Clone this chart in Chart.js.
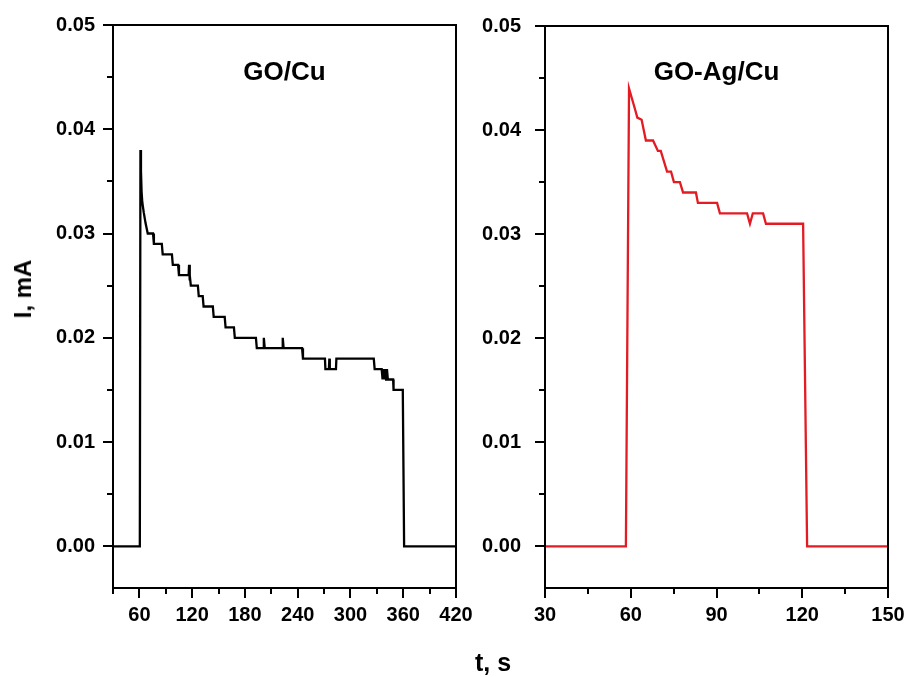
<!DOCTYPE html>
<html>
<head>
<meta charset="utf-8">
<script src="https://cdn.jsdelivr.net/npm/chart.js@4.4.0/dist/chart.umd.min.js"></script>
<style>
  html, body { margin: 0; padding: 0; background: #fff; overflow: hidden; }
  body { width: 908px; height: 677px; position: relative; font-family: "Liberation Sans", Arial, sans-serif; }
  canvas { position: absolute; top: 0; }
  #chartLeft { left: 0; }
  #chartRight { left: 460px; }
  .axis-title { position: absolute; font-weight: bold; font-size: 24px; color: #000; white-space: nowrap; }
  #yTitle { left: 23px; top: 289px; transform: translate(-50%, -50%) rotate(-90deg); }
  #xTitle { left: 493px; top: 662px; transform: translate(-50%, -50%); font-size: 25px; }
</style>
</head>
<body>
<canvas id="chartLeft" width="490" height="677"></canvas>
<canvas id="chartRight" width="468" height="677"></canvas>
<div id="yTitle" class="axis-title">I, mA</div>
<div id="xTitle" class="axis-title">t, s</div>
<script>
// GO/Cu (black)
const goCuTime = [30, 60.5, 61.2, 61.8, 62.5, 63.3, 65, 67, 69.5, 75.5, 76.5, 85.5, 86.5, 97, 98, 104, 105,
    116, 116.5, 117, 117.5, 118.5, 126.5, 127.5, 132, 133, 143.5, 144.5, 157, 158, 167.5, 168.5,
    192.5, 193.5, 201, 201.5, 202.5, 222.5, 223, 224, 245, 246, 271, 271.5, 275.5, 276, 276.5,
    283.5, 284, 326.5, 327.5, 335.5, 336.5, 337.5, 338.5, 339.5, 340.5, 341.5, 342.5, 348.5, 349,
    359.5, 361, 420];
const goCuCurrent = [0, 0, 0.038, 0.036, 0.034, 0.033, 0.032, 0.031, 0.030, 0.030, 0.029, 0.029, 0.028, 0.028, 0.027, 0.027, 0.026,
    0.026, 0.027, 0.0255, 0.026, 0.025, 0.025, 0.024, 0.024, 0.023, 0.023, 0.022, 0.022, 0.021, 0.021, 0.020,
    0.020, 0.019, 0.019, 0.020, 0.019, 0.019, 0.020, 0.019, 0.019, 0.018, 0.018, 0.017, 0.017, 0.018, 0.017,
    0.017, 0.018, 0.018, 0.017, 0.017, 0.016, 0.017, 0.016, 0.017, 0.016, 0.017, 0.016, 0.016, 0.015,
    0.015, 0, 0];

// GO-Ag/Cu (red)
const goAgTime = [30, 58.3, 59.4, 61.5, 62.3, 63.8, 65.3, 67.8, 69.5, 70.5, 72.7, 74.1, 75.1, 77.2, 78.3,
    82.8, 83.5, 90.2, 91.2, 100.7, 101.7, 102.7, 106.3, 107.3, 120.3, 121.7, 150];
const goAgCurrent = [0, 0, 0.044, 0.042, 0.0412, 0.041, 0.039, 0.039, 0.038, 0.038, 0.036, 0.036, 0.035, 0.035, 0.034,
    0.034, 0.033, 0.033, 0.032, 0.032, 0.031, 0.032, 0.032, 0.031, 0.031, 0, 0];

// axis ticks
const yTicks = [0, 0.01, 0.02, 0.03, 0.04, 0.05];
const yMinorTicks = [0.005, 0.015, 0.025, 0.035, 0.045];
const xTicksLeft = [60, 120, 180, 240, 300, 360, 420];
const xMinorLeft = [30, 90, 150, 210, 270, 330, 390];
const xTicksRight = [30, 60, 90, 120, 150];
const xMinorRight = [45, 75, 105, 135];

const FONT = '"Liberation Sans", Arial, sans-serif';

// frame box, minor ticks and the panel label
const framePlugin = {
    id: 'frame',
    afterDraw(chart, args, opts) {
        const ctx = chart.ctx;
        const a = chart.chartArea;
        ctx.save();
        ctx.strokeStyle = '#000';
        ctx.lineWidth = 2;
        ctx.strokeRect(a.left, a.top, a.right - a.left, a.bottom - a.top);
        opts.minorX.forEach(function (v) {
            const x = Math.round(chart.scales.x.getPixelForValue(v));
            ctx.beginPath();
            ctx.moveTo(x, a.bottom);
            ctx.lineTo(x, a.bottom + 6);
            ctx.stroke();
        });
        opts.minorY.forEach(function (v) {
            const y = Math.round(chart.scales.y.getPixelForValue(v));
            ctx.beginPath();
            ctx.moveTo(a.left, y);
            ctx.lineTo(a.left - 6, y);
            ctx.stroke();
        });
        ctx.fillStyle = '#000';
        ctx.font = 'bold 26px ' + FONT;
        ctx.textAlign = 'center';
        ctx.textBaseline = 'middle';
        ctx.fillText(opts.label, (a.left + a.right) / 2, 73);
        ctx.restore();
    }
};

function makeChart(el, times, values, color, xMin, xMax, xTicks, xMinor, label, yWidth, yPad, pad) {
    return new Chart(el, {
        type: 'line',
        data: {
            datasets: [{
                data: times.map((t, i) => ({ x: t, y: values[i] })),
                borderColor: color,
                borderWidth: 2.3,
                pointRadius: 0,
                tension: 0,
                fill: false
            }]
        },
        options: {
            responsive: false,
            animation: false,
            devicePixelRatio: 1,
            layout: { padding: pad },
            plugins: {
                legend: { display: false },
                tooltip: { enabled: false },
                frame: { label: label, minorX: xMinor, minorY: yMinorTicks }
            },
            scales: {
                x: {
                    type: 'linear',
                    min: xMin,
                    max: xMax,
                    afterBuildTicks: s => { s.ticks = xTicks.map(v => ({ value: v })); },
                    afterFit: s => { s.height = 89; },
                    border: { display: false },
                    grid: { drawOnChartArea: false, drawTicks: true, tickLength: 10, color: '#000', lineWidth: 2 },
                    ticks: {
                        autoSkip: false,
                        maxRotation: 0,
                        padding: 5,
                        color: '#000',
                        font: { family: FONT, size: 20, weight: 'bold' }
                    }
                },
                y: {
                    min: -0.004,
                    max: 0.05,
                    afterBuildTicks: s => { s.ticks = yTicks.map(v => ({ value: v })); },
                    afterFit: s => { s.width = yWidth; },
                    border: { display: false },
                    grid: { drawOnChartArea: false, drawTicks: true, tickLength: 10, color: '#000', lineWidth: 2 },
                    ticks: {
                        padding: yPad,
                        color: '#000',
                        font: { family: FONT, size: 20, weight: 'bold' },
                        callback: v => v.toFixed(2)
                    }
                }
            }
        },
        plugins: [framePlugin]
    });
}

document.addEventListener("DOMContentLoaded", function () {
    makeChart(document.getElementById("chartLeft"), goCuTime, goCuCurrent, '#000000',
        30, 420, xTicksLeft, xMinorLeft, 'GO/Cu', 113, 8, { left: 0, right: 34, top: 25, bottom: 0 });
    makeChart(document.getElementById("chartRight"), goAgTime, goAgCurrent, '#e31b23',
        30, 150, xTicksRight, xMinorRight, 'GO-Ag/Cu', 85, 14, { left: 0, right: 40, top: 25, bottom: 0 });
});
</script>
</body>
</html>
